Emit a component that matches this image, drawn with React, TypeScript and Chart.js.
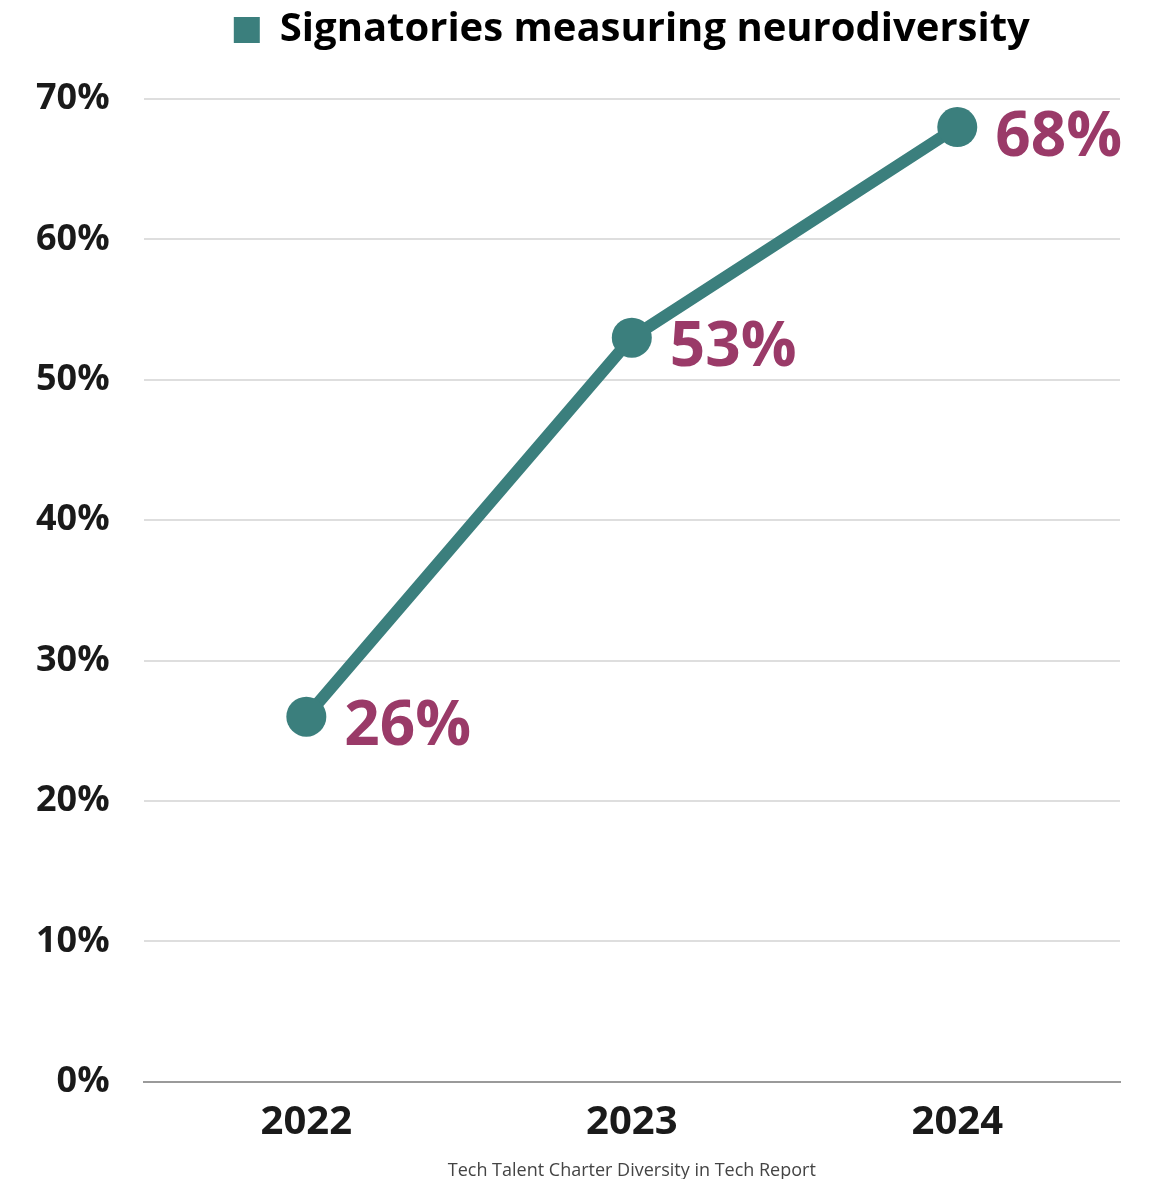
import React, { useEffect, useRef } from "react";
import { Chart, registerables } from "chart.js";

Chart.register(...registerables);

const categories = ["2022", "2023", "2024"];
const seriesLabel = "Signatories measuring neurodiversity";
const values = [26, 53, 68];
const yTicks = [0, 10, 20, 30, 40, 50, 60, 70];
const sourceText = "Tech Talent Charter Diversity in Tech Report";

const TEAL = "#3b7f7d";
const MAROON = "#9a3a68";
const FONT = "'Open Sans', sans-serif";

const dataLabelPlugin = {
  id: "dataLabels",
  afterDatasetsDraw(chart: any) {
    const ctx = chart.ctx;
    const meta = chart.getDatasetMeta(0);
    ctx.save();
    ctx.fillStyle = MAROON;
    ctx.font = `bold 62px ${FONT}`;
    ctx.textAlign = "left";
    ctx.textBaseline = "middle";
    meta.data.forEach((pt: any, i: number) => {
      const v = chart.data.datasets[0].data[i];
      ctx.fillText(`${v}%`, pt.x + 38, pt.y + 11);
    });
    ctx.restore();
  },
};

const legendMarginPlugin = {
  id: "legendMargin",
  beforeInit(chart: any) {
    const legend = chart.legend;
    if (!legend) return;
    const fit = legend.fit;
    legend.fit = function () {
      fit.bind(legend)();
      this.height += 39;
    };
  },
};

export default function App() {
  const ref = useRef<HTMLCanvasElement | null>(null);
  useEffect(() => {
    if (!ref.current) return;
    const chart = new Chart(ref.current, {
      type: "line",
      data: {
        labels: categories,
        datasets: [
          {
            label: seriesLabel,
            data: values,
            borderColor: TEAL,
            backgroundColor: TEAL,
            borderWidth: 12,
            pointRadius: 20,
            pointBackgroundColor: TEAL,
            pointBorderWidth: 0,
            tension: 0,
          },
        ],
      },
      options: {
        animation: false,
        responsive: false,
        layout: { padding: { top: 0, left: 2, right: 29, bottom: 0 } },
        plugins: {
          tooltip: { enabled: false },
          legend: {
            display: true,
            position: "top",
            fullSize: false,
            labels: {
              color: "#222",
              font: { family: FONT, size: 40, weight: "bold" },
              boxWidth: 26,
              boxHeight: 26,
              padding: 10,
              generateLabels: () => [
                {
                  text: seriesLabel,
                  fillStyle: TEAL,
                  strokeStyle: TEAL,
                  lineWidth: 0,
                  hidden: false,
                  datasetIndex: 0,
                },
              ],
            },
          },
        },
        scales: {
          x: {
            offset: true,
            grid: { display: false, drawTicks: false },
            border: { display: true, color: "#9a9a9a", width: 2 },
            ticks: {
              color: "#1a1a1a",
              font: { family: FONT, size: 40, weight: "bold" },
              padding: 17,
            },
            title: {
              display: true,
              text: sourceText,
              color: "#444",
              font: { family: FONT, size: 18, lineHeight: 0.85 },
              padding: { top: 0, bottom: 0 },
            },
          },
          y: {
            min: 0,
            max: 70,
            afterBuildTicks: (axis: any) => {
              axis.ticks = yTicks.map((v) => ({ value: v }));
            },
            grid: { color: "#dedede", lineWidth: 2, drawTicks: false },
            border: { display: false },
            ticks: {
              color: "#1a1a1a",
              font: { family: FONT, size: 36, weight: "bold" },
              padding: 34,
              callback: (v: any) => `${v}%`,
            },
          },
        },
      },
      plugins: [dataLabelPlugin, legendMarginPlugin],
    });
    return () => chart.destroy();
  }, []);
  return (
    <div style={{ position: "absolute", left: 0, top: 0, width: 1149, height: 1179, background: "#fff" }}>
      <canvas ref={ref} width={1149} height={1179} style={{ width: 1149, height: 1179 }} />
    </div>
  );
}
